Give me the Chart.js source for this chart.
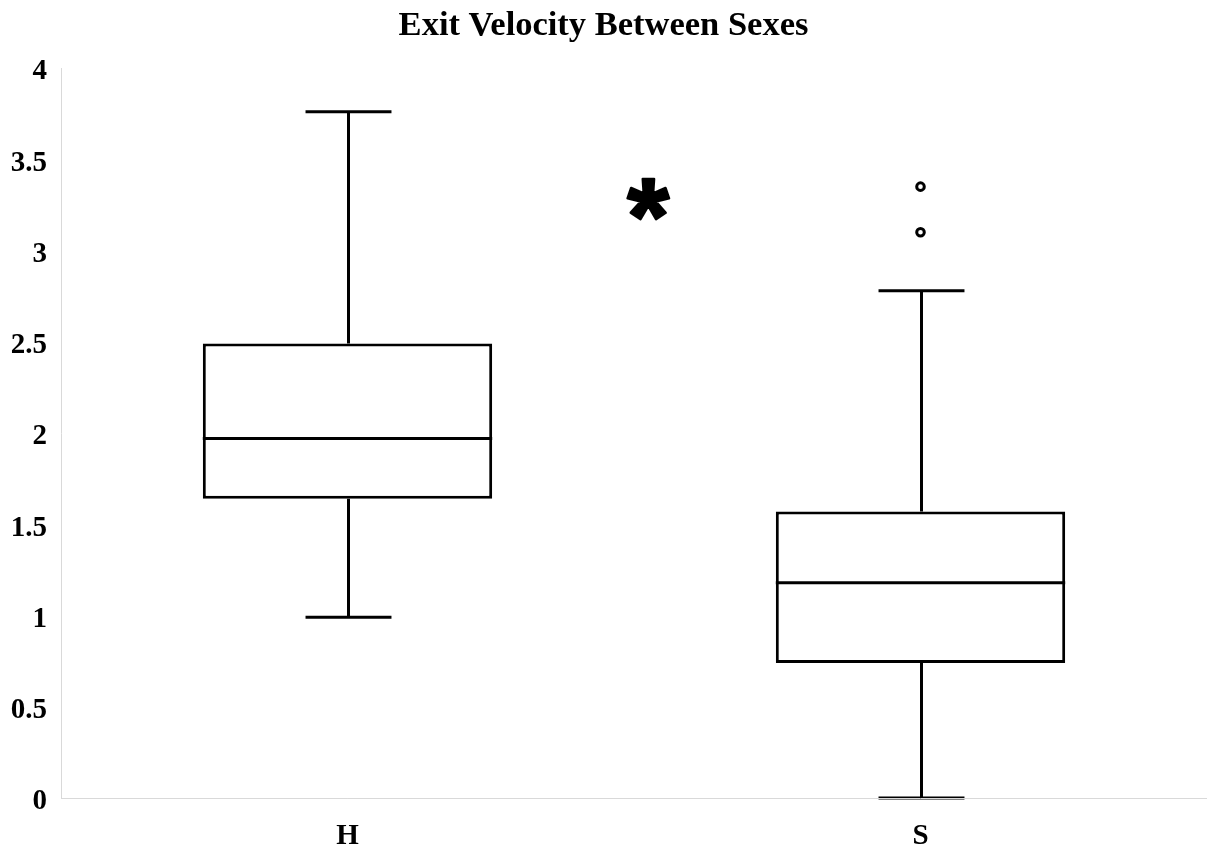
<!DOCTYPE html>
<html>
<head>
<meta charset="utf-8">
<title>Exit Velocity Between Sexes</title>
<script src="https://cdn.jsdelivr.net/npm/chart.js@4.4.1/dist/chart.umd.min.js"></script>
<style>
  html, body { margin: 0; padding: 0; background: #ffffff; }
  #wrap { width: 1207px; height: 848px; }
  canvas { display: block; }
</style>
</head>
<body>
<div id="wrap"><canvas id="chart" width="1207" height="848"></canvas></div>
<script>
// Box-plot summary per group
const categories  = ['H', 'S'];
const whiskerLow  = [0.99, 0.00];
const quartile1   = [1.64, 0.74];
const medians     = [1.97, 1.18];
const quartile3   = [2.49, 1.57];
const whiskerHigh = [3.76, 2.78];
const outliers    = [[], [3.35, 3.10]];

// Significance marker between the groups (x in category units, y in data units)
const markerText  = '*';
const markerIndex = 0.525;
const markerValue = 3.28;

const serif = "'Liberation Serif', 'Times New Roman', Times, serif";
const markerFont = "'Liberation Sans', Arial, sans-serif";

const boxRanges = quartile1.map((q, i) => [q, quartile3[i]]);
const outlierPoints = outliers.flatMap((vals, i) => vals.map(v => ({ x: categories[i], y: v })));

// Draws a glyph scaled to a given ink width and centred on (cx, cy)
function drawGlyph(ctx, text, font, cx, cy, width, outline) {
  ctx.font = 'bold 100px ' + font;
  const m = ctx.measureText(text);
  const gw = m.actualBoundingBoxLeft + m.actualBoundingBoxRight;
  const size = 100 * width / gw;
  ctx.font = 'bold ' + size + 'px ' + font;
  const m2 = ctx.measureText(text);
  const w2 = m2.actualBoundingBoxLeft + m2.actualBoundingBoxRight;
  const h2 = m2.actualBoundingBoxAscent + m2.actualBoundingBoxDescent;
  ctx.textAlign = 'left';
  ctx.textBaseline = 'alphabetic';
  const tx = cx - w2 / 2 + m2.actualBoundingBoxLeft;
  const ty = cy - h2 / 2 + m2.actualBoundingBoxAscent;
  ctx.fillText(text, tx, ty);
  if (outline) {
    ctx.lineJoin = 'round';
    ctx.lineWidth = outline;
    ctx.strokeText(text, tx, ty);
  }
}

// Draws whiskers, caps, median lines and the significance marker
const boxPlotExtras = {
  id: 'boxPlotExtras',
  afterDatasetsDraw(chart) {
    const { ctx, chartArea, scales: { x, y } } = chart;
    const catWidth = x.getPixelForValue(1) - x.getPixelForValue(0);
    const halfCap = catWidth * 0.075;
    const bars = chart.getDatasetMeta(0).data;
    ctx.save();
    ctx.strokeStyle = '#000000';
    ctx.lineCap = 'butt';
    categories.forEach((c, i) => {
      const cx = Math.round(x.getPixelForValue(i)) + 0.5;
      const yLow = y.getPixelForValue(whiskerLow[i]);
      const yQ1 = y.getPixelForValue(quartile1[i]);
      const yMed = y.getPixelForValue(medians[i]);
      const yQ3 = y.getPixelForValue(quartile3[i]);
      const yHigh = y.getPixelForValue(whiskerHigh[i]);
      ctx.lineWidth = 3;
      ctx.beginPath();
      // upper whisker and cap
      ctx.moveTo(cx, yQ3); ctx.lineTo(cx, yHigh);
      ctx.moveTo(cx - halfCap, yHigh); ctx.lineTo(cx + halfCap, yHigh);
      // lower whisker and cap
      ctx.moveTo(cx, yQ1); ctx.lineTo(cx, yLow);
      ctx.moveTo(cx - halfCap, yLow); ctx.lineTo(cx + halfCap, yLow);
      ctx.stroke();
      // median across the box
      const bar = bars[i];
      const half = bar.width / 2;
      ctx.beginPath();
      ctx.moveTo(bar.x - half, yMed); ctx.lineTo(bar.x + half, yMed);
      ctx.stroke();
    });
    // keep the axis line visible over caps that sit on it
    ctx.strokeStyle = '#d9d9d9';
    ctx.lineWidth = 1;
    const yb = Math.round(chartArea.bottom) + 0.5;
    ctx.beginPath();
    ctx.moveTo(chartArea.left, yb); ctx.lineTo(Math.min(chartArea.right, chart.width), yb);
    ctx.stroke();

    // significance asterisk
    ctx.fillStyle = '#000000';
    ctx.strokeStyle = '#000000';
    drawGlyph(ctx, markerText, markerFont,
      x.getPixelForValue(markerIndex), y.getPixelForValue(markerValue), 42, 2.5);
    ctx.restore();
  }
};

new Chart(document.getElementById('chart'), {
  type: 'bar',
  data: {
    labels: categories,
    datasets: [
      {
        type: 'bar',
        data: boxRanges,
        backgroundColor: '#ffffff',
        borderColor: '#000000',
        borderWidth: 3,
        borderSkipped: false,
        barPercentage: 0.505,
        categoryPercentage: 1.0,
        order: 2
      },
      {
        type: 'line',
        data: outlierPoints,
        showLine: false,
        pointStyle: 'circle',
        pointRadius: 3.8,
        pointBorderWidth: 3,
        pointBackgroundColor: '#ffffff',
        pointBorderColor: '#000000',
        order: 1
      }
    ]
  },
  options: {
    responsive: false,
    animation: false,
    devicePixelRatio: 1,
    events: [],
    layout: { autoPadding: false, padding: { left: 0, right: 0, top: 0, bottom: 0 } },
    plugins: {
      legend: { display: false },
      tooltip: { enabled: false },
      title: {
        display: true,
        text: 'Exit Velocity Between Sexes',
        color: '#000000',
        font: { family: serif, size: 34.5, weight: 'bold', lineHeight: 1 },
        padding: { top: 9, bottom: 24.5 }
      }
    },
    scales: {
      x: {
        type: 'category',
        offset: true,
        grid: { display: false, drawTicks: false },
        border: { display: true, color: '#d9d9d9', width: 1 },
        ticks: {
          color: '#000000',
          font: { family: serif, size: 29, weight: 'bold' },
          padding: 21
        },
        afterFit(scale) { scale.height = 50; }
      },
      y: {
        min: 0,
        max: 4,
        grid: { display: false, drawTicks: false },
        border: { display: true, color: '#d9d9d9', width: 1 },
        ticks: {
          stepSize: 0.5,
          color: '#000000',
          font: { family: serif, size: 29, weight: 'bold' },
          padding: 14,
          labelOffset: 4,
          callback: (v) => String(v)
        },
        afterFit(scale) { scale.width = 61; }
      }
    }
  },
  plugins: [boxPlotExtras]
});
</script>
</body>
</html>
